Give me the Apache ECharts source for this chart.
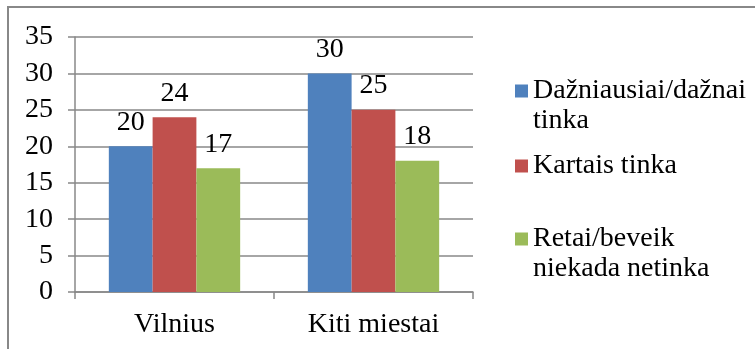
<!DOCTYPE html>
<html>
<head>
<meta charset="utf-8">
<script src="https://cdn.jsdelivr.net/npm/echarts@6/dist/echarts.min.js"></script>
<style>
  html, body { margin: 0; padding: 0; background: #fff; }
  #chart { width: 755px; height: 349px; }
</style>
</head>
<body>
<div id="chart"></div>
<script>
var categories = ['Vilnius', 'Kiti miestai']
var seriesNames = ['Dažniausiai/dažnai tinka', 'Kartais tinka', 'Retai/beveik niekada netinka']
var legendTexts = ['Dažniausiai/dažnai\ntinka', 'Kartais tinka', 'Retai/beveik\nniekada netinka']
var often = [20, 30]
var sometimes = [24, 25]
var rarely = [17, 18]
var colors = ['#4F81BD', '#C0504D', '#9BBB59']

var font = "'Liberation Serif', 'Times New Roman', serif"
var chart = echarts.init(document.getElementById('chart'))

function makeSeries(name, data, color) {
  return {
    name: name,
    type: 'bar',
    data: data,
    barGap: '0%',
    barCategoryGap: '34%',
    itemStyle: { color: color },
    label: {
      show: true,
      position: 'top',
      distance: 10,
      color: '#000',
      fontFamily: font,
      fontSize: 28
    },
    animation: false
  }
}

// one legend per series; a blank first line keeps the marker level with
// the first text line when the name wraps
function makeLegend(idx, top) {
  var twoLines = legendTexts[idx].indexOf('\n') >= 0
  return {
    orient: 'vertical',
    left: 515,
    top: top,
    padding: 0,
    itemWidth: 13,
    itemHeight: 13,
    icon: 'rect',
    selectedMode: false,
    data: [seriesNames[idx]],
    formatter: function () {
      return twoLines ? ' \n' + legendTexts[idx] : legendTexts[idx]
    },
    textStyle: {
      fontFamily: font,
      fontSize: 28,
      lineHeight: 30,
      color: '#000'
    }
  }
}

chart.setOption({
  textStyle: { fontFamily: font },
  grid: {
    left: 75,
    right: 282,
    top: 37,
    bottom: 57
  },
  legend: [
    makeLegend(0, 46),
    makeLegend(1, 151),
    makeLegend(2, 194)
  ],
  xAxis: {
    type: 'category',
    data: categories,
    axisLine: { lineStyle: { color: '#888', width: 1.5 } },
    axisTick: { show: true, length: 7, lineStyle: { color: '#888', width: 1.5 } },
    axisLabel: { color: '#000', fontFamily: font, fontSize: 28, margin: 19 }
  },
  yAxis: {
    type: 'value',
    min: 0,
    max: 35,
    interval: 5,
    axisLine: { show: true, lineStyle: { color: '#888', width: 1.5 } },
    axisTick: { show: true, length: 7, lineStyle: { color: '#888', width: 1.5 } },
    axisLabel: { color: '#000', fontFamily: font, fontSize: 28, margin: 22 },
    splitLine: { lineStyle: { color: '#888', width: 1.5 } }
  },
  graphic: [{
    type: 'polyline',
    shape: { points: [[8, 349], [8, 7], [755, 7]] },
    style: { stroke: '#888', lineWidth: 2, fill: null }
  }],
  series: [
    makeSeries(seriesNames[0], often, colors[0]),
    makeSeries(seriesNames[1], sometimes, colors[1]),
    makeSeries(seriesNames[2], rarely, colors[2])
  ]
})
</script>
</body>
</html>
